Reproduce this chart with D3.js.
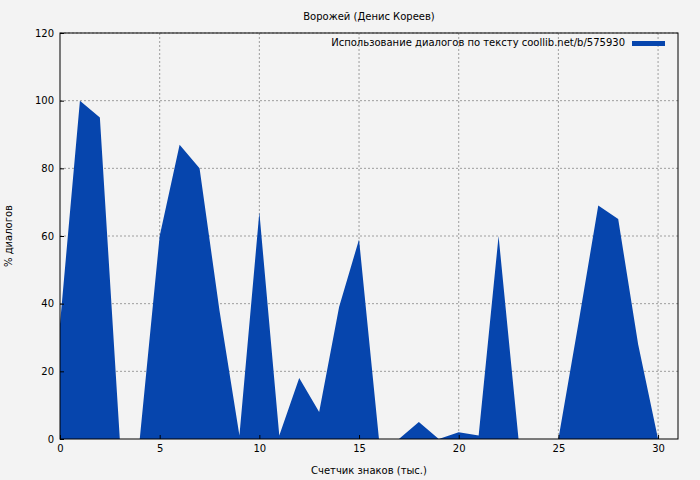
<!DOCTYPE html>
<html><head><meta charset="utf-8">
<script src="https://cdn.jsdelivr.net/npm/d3@7"></script>
<style>body{margin:0;background:#f3f3f3}text{font-family:"DejaVu Sans",sans-serif;font-size:10px;fill:#000}</style>
</head><body><svg id="c" width="700" height="480"></svg>
<script>
var xs = [0,1,2,3,4,5,6,7,8,9,10,11,12,13,14,15,16,17,18,19,20,21,22,23,24,25,26,27,28,29,30]
var vals = [34,100,95,0,0,60,87,80,38,1,67,1,18,8,39,59,0,0,5,0,2,1,60,0,0,0,34,69,65,28,0]
var xTicks = [0,5,10,15,20,25,30]
var yTicks = [0,20,40,60,80,100,120]

var svg = d3.select('#c')
var m = {l:60, r:678, t:33, b:439}
var x = d3.scaleLinear().domain([0,31]).range([m.l, m.r])
var y = d3.scaleLinear().domain([0,120]).range([m.b, m.t])

svg.append('rect').attr('width',700).attr('height',480).attr('fill','#f3f3f3')

var g = svg.append('g')
g.selectAll('.gx').data(xTicks.slice(1)).enter().append('line')
    .attr('x1',d=>x(d)).attr('x2',d=>x(d)).attr('y1',m.t).attr('y2',m.b)
    .attr('stroke','#888').attr('stroke-dasharray','2,2').attr('stroke-width',0.8)
g.selectAll('.gy').data(yTicks.slice(1)).enter().append('line')
    .attr('y1',d=>y(d)).attr('y2',d=>y(d)).attr('x1',m.l).attr('x2',m.r)
    .attr('stroke','#888').attr('stroke-dasharray','2,2').attr('stroke-width',0.8)

var area = d3.area().x((d,i)=>x(xs[i])).y0(y(0)).y1(d=>y(d))
svg.append('path').datum(vals).attr('d',area).attr('fill','#0645ad')

svg.append('g').attr('transform','translate(0,'+m.b+')')
    .call(d3.axisBottom(x).tickValues(xTicks).tickSize(-4).tickPadding(6))
svg.append('g').attr('transform','translate('+m.l+',0)')
    .call(d3.axisLeft(y).tickValues(yTicks).tickSize(-4).tickPadding(6))
svg.selectAll('.domain').remove()
svg.selectAll('.tick text').style('font-family','"DejaVu Sans",sans-serif').style('font-size','10px')
svg.append('rect').attr('x',m.l).attr('y',m.t).attr('width',m.r-m.l).attr('height',m.b-m.t)
    .attr('fill','none').attr('stroke','#000')

svg.append('text').attr('x',369).attr('y',20).attr('text-anchor','middle').text('Ворожей (Денис Кореев)')
svg.append('text').attr('x',369).attr('y',474).attr('text-anchor','middle').text('Счетчик знаков (тыс.)')
svg.append('text').attr('transform','translate(12,236) rotate(-90)').attr('text-anchor','middle').text('% диалогов')
svg.append('text').attr('x',625).attr('y',46).attr('text-anchor','end').text('Использование диалогов по тексту coollib.net/b/575930')
svg.append('rect').attr('x',632).attr('y',41).attr('width',33).attr('height',5).attr('fill','#0645ad')
</script></body></html>
